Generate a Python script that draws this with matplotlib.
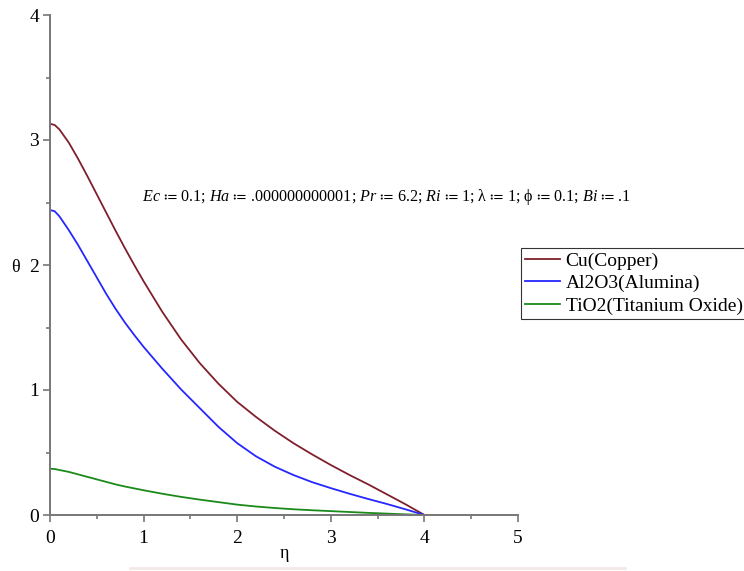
import matplotlib
matplotlib.use("Agg")
import matplotlib.pyplot as plt
from matplotlib.lines import Line2D
from matplotlib.ticker import MultipleLocator

plt.rcParams['font.family'] = ['Liberation Serif', 'DejaVu Serif']
plt.rcParams['mathtext.fontset'] = 'custom'
plt.rcParams['mathtext.rm'] = 'Liberation Serif'
plt.rcParams['mathtext.it'] = 'Liberation Serif:italic'
plt.rcParams['mathtext.fallback'] = 'stix'

# values
eta = [0, 0.05, 0.1, 0.2, 0.3, 0.4, 0.5, 0.6, 0.7, 0.8, 0.9, 1.0, 1.2, 1.4, 1.6, 1.8,
       2.0, 2.2, 2.4, 2.6, 2.8, 3.0, 3.2, 3.4, 3.6, 3.8, 4.0]
theta_cu = [3.13, 3.12, 3.085, 2.98, 2.85, 2.71, 2.565, 2.42, 2.275, 2.135, 2.0, 1.87, 1.625, 1.405, 1.215, 1.05,
            0.905, 0.785, 0.675, 0.575, 0.485, 0.40, 0.32, 0.245, 0.165, 0.085, 0.0]
theta_al2o3 = [2.44, 2.43, 2.39, 2.28, 2.16, 2.03, 1.90, 1.77, 1.65, 1.54, 1.44, 1.345, 1.17, 1.005, 0.855, 0.705,
               0.575, 0.47, 0.387, 0.32, 0.263, 0.215, 0.17, 0.128, 0.088, 0.045, 0.0]
theta_tio2 = [0.37, 0.368, 0.36, 0.345, 0.325, 0.305, 0.285, 0.265, 0.245, 0.228, 0.213, 0.198, 0.17, 0.145, 0.123, 0.103,
              0.083, 0.068, 0.056, 0.046, 0.038, 0.031, 0.024, 0.017, 0.011, 0.005, 0.0]
labels = ['Cu(Copper)', 'Al2O3(Alumina)', 'TiO2(Titanium Oxide)']
colors = ['#7f1f2c', '#2626ff', '#1a8a1a']

W, H = 744, 571
fig = plt.figure(figsize=(W / 100, H / 100), dpi=100)
ax = fig.add_axes([50 / W, 1 - 515 / H, 468 / W, 500 / H])

for ys, lab, c in zip([theta_cu, theta_al2o3, theta_tio2], labels, colors):
    ax.plot(eta, ys, color=c, lw=1.3, label=lab)

ax.set_xlim(0, 5)
ax.set_ylim(0, 4)
ax.xaxis.set_major_locator(MultipleLocator(1))
ax.xaxis.set_minor_locator(MultipleLocator(0.5))
ax.yaxis.set_major_locator(MultipleLocator(1))
ax.yaxis.set_minor_locator(MultipleLocator(0.5))
for s in ['top', 'right']:
    ax.spines[s].set_visible(False)
for s in ['left', 'bottom']:
    ax.spines[s].set_color('#777777')
    ax.spines[s].set_linewidth(1.4)
    ax.spines[s].set_clip_on(False)
ax.tick_params(which='major', length=5, width=1.2, color='#777777', labelsize=14)
ax.tick_params(which='minor', length=3, width=1.2, color='#777777')
ax.tick_params(axis='x', which='major', pad=6)
ax.tick_params(axis='y', which='major', pad=3)

fig.text(15 / W, 1 - 267 / H, 'θ', fontsize=13, ha='center', va='center')
fig.text(284 / W, 1 - 553 / H, 'η', fontsize=13, ha='center', va='center')

params = (r'$Ec$ $≔$ 0.1; $Ha$ $≔$ .000000000001; $Pr$ $≔$ 6.2; $Ri$ $≔$ 1; '
          r'λ $≔$ 1; ϕ $≔$ 0.1; $Bi$ $≔$ .1')
ax.text(387 / W, 1 - 197 / H, params, transform=fig.transFigure,
        fontsize=11.6, ha='center', va='center')

leg = ax.legend(loc='upper left', bbox_to_anchor=(521 / W, 1 - 248 / H),
                bbox_transform=fig.transFigure, fontsize=14, frameon=True,
                fancybox=False, borderaxespad=0, borderpad=0.2,
                handlelength=1.8, handletextpad=0.3, labelspacing=0.25)
leg.get_frame().set_edgecolor('black')
leg.get_frame().set_linewidth(0.8)

fig.add_artist(Line2D([130 / W, 625 / W], [1 - 568 / H] * 2, color='#f3e8e8', lw=2))

fig.savefig('out.png', dpi=100)
